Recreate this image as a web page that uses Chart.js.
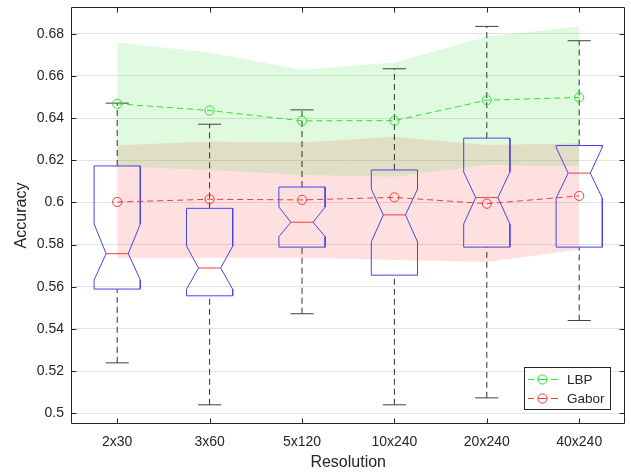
<!DOCTYPE html>
<html><head><meta charset="utf-8">
<script src="https://cdn.jsdelivr.net/npm/chart.js@4.4.1/dist/chart.umd.min.js"></script>
<style>html,body{margin:0;padding:0;background:#fff;}</style>
</head><body>
<canvas id="c" width="631" height="472" style="width:631px;height:472px;display:block"></canvas>
<script>
// ---- data ----
const categories = ['2x30', '3x60', '5x120', '10x240', '20x240', '40x240'];
const yTicks = [0.5, 0.52, 0.54, 0.56, 0.58, 0.6, 0.62, 0.64, 0.66, 0.68];

const lbpMean   = [0.6468, 0.6436, 0.6387, 0.6388, 0.6485, 0.6498];
const gaborMean = [0.6002, 0.6015, 0.6012, 0.6024, 0.5994, 0.6031];

const lbpBandHigh   = [0.6759, 0.6711, 0.6629, 0.6664, 0.6787, 0.6835];
const lbpBandLow    = [0.6170, 0.6154, 0.6130, 0.6122, 0.6178, 0.6170];
const gaborBandHigh = [0.6271, 0.6289, 0.6284, 0.6312, 0.6273, 0.6281];
const gaborBandLow  = [0.5735, 0.5738, 0.5738, 0.5727, 0.5717, 0.5777];

const whiskerHigh = [0.6471, 0.6371, 0.6439, 0.6634, 0.6835, 0.6767];
const q3          = [0.6173, 0.5972, 0.6073, 0.6154, 0.6305, 0.6270];
const notchHigh   = [0.5898, 0.5793, 0.5978, 0.6063, 0.6144, 0.6262];
const median      = [0.5757, 0.5689, 0.5906, 0.5941, 0.6023, 0.6139];
const notchLow    = [0.5632, 0.5588, 0.5838, 0.5813, 0.5898, 0.6020];
const q1          = [0.5589, 0.5557, 0.5788, 0.5655, 0.5788, 0.5788];
const whiskerLow  = [0.5239, 0.5040, 0.5472, 0.5040, 0.5073, 0.5440];

// ---- styling constants ----
const BOX_HALF = 0.25, NOTCH_HALF = 0.12, CAP_HALF = 0.125;
const GREEN = 'rgb(45,225,45)', RED = 'rgb(238,60,60)', BLUE = 'rgb(70,70,228)';
const AXIS = '#262626';
const FONT = "'Liberation Sans', Arial, sans-serif";

const xs = categories.map((_, i) => i + 1);
const pts = (arr) => arr.map((v, i) => ({x: xs[i], y: v}));

function seg(data, color, dash, width) {
  return {type: 'line', data, borderColor: color, borderWidth: width || 1, borderDash: dash || [],
    pointRadius: 0, fill: false, tension: 0, showLine: true, label: '_'};
}

const datasets = [];
datasets.push({type: 'line', label: 'LBP', data: pts(lbpMean), borderColor: GREEN, borderWidth: 1,
  borderDash: [6, 4], pointStyle: 'circle', pointRadius: 4.6, pointBorderColor: GREEN,
  pointBackgroundColor: 'rgba(0,0,0,0)', pointBorderWidth: 1, fill: false, tension: 0});
datasets.push({type: 'line', label: 'Gabor', data: pts(gaborMean), borderColor: RED, borderWidth: 1,
  borderDash: [6, 4], pointStyle: 'circle', pointRadius: 4.6, pointBorderColor: RED,
  pointBackgroundColor: 'rgba(0,0,0,0)', pointBorderWidth: 1, fill: false, tension: 0});

xs.forEach((c, i) => {
  const nh = Math.min(notchHigh[i], q3[i]);
  const nl = Math.max(notchLow[i], q1[i]);
  const L = c - BOX_HALF, R = c + BOX_HALF, nL = c - NOTCH_HALF, nR = c + NOTCH_HALF;
  datasets.push(seg([
    {x: L, y: q1[i]}, {x: L, y: nl}, {x: nL, y: median[i]}, {x: L, y: nh}, {x: L, y: q3[i]},
    {x: R, y: q3[i]}, {x: R, y: nh}, {x: nR, y: median[i]}, {x: R, y: nl}, {x: R, y: q1[i]},
    {x: L, y: q1[i]}], BLUE));
  datasets.push(seg([{x: nL, y: median[i]}, {x: nR, y: median[i]}], RED));
  datasets.push(seg([{x: c, y: q3[i]}, {x: c, y: whiskerHigh[i]}], '#303030', [6, 4]));
  datasets.push(seg([{x: c, y: whiskerLow[i]}, {x: c, y: q1[i]}], '#303030', [6, 4]));
  datasets.push(seg([{x: c - CAP_HALF, y: whiskerHigh[i]}, {x: c + CAP_HALF, y: whiskerHigh[i]}], '#404040'));
  datasets.push(seg([{x: c - CAP_HALF, y: whiskerLow[i]}, {x: c + CAP_HALF, y: whiskerLow[i]}], '#404040'));
});

// bands (drawn first because they are last)
datasets.push({type: 'line', label: '_', data: pts(lbpBandHigh), borderWidth: 0, borderColor: 'rgba(0,0,0,0)',
  pointRadius: 0, fill: '+1', backgroundColor: 'rgba(0,215,0,0.12)', tension: 0});
datasets.push({type: 'line', label: '_', data: pts(lbpBandLow), borderWidth: 0, borderColor: 'rgba(0,0,0,0)',
  pointRadius: 0, fill: false, tension: 0});
datasets.push({type: 'line', label: '_', data: pts(gaborBandHigh), borderWidth: 0, borderColor: 'rgba(0,0,0,0)',
  pointRadius: 0, fill: '+1', backgroundColor: 'rgba(255,0,0,0.12)', tension: 0});
datasets.push({type: 'line', label: '_', data: pts(gaborBandLow), borderWidth: 0, borderColor: 'rgba(0,0,0,0)',
  pointRadius: 0, fill: false, tension: 0});

const frame = {
  id: 'frame',
  afterDatasetsDraw(chart) {
    const ctx = chart.ctx, a = chart.chartArea, sx = chart.scales.x, sy = chart.scales.y;
    ctx.save();
    ctx.strokeStyle = AXIS; ctx.lineWidth = 1; ctx.setLineDash([]);
    const l = Math.round(a.left) + 0.5, r = Math.round(a.right) - 0.5;
    const t = Math.round(a.top) + 0.5, b = Math.round(a.bottom) - 0.5;
    ctx.beginPath();
    ctx.rect(l, t, r - l, b - t);
    const TL = 5;
    yTicks.forEach(v => {
      const y = Math.round(sy.getPixelForValue(v)) + 0.5;
      ctx.moveTo(l, y); ctx.lineTo(l + TL, y);
      ctx.moveTo(r, y); ctx.lineTo(r - TL, y);
    });
    xs.forEach(v => {
      const x = Math.round(sx.getPixelForValue(v)) + 0.5;
      ctx.moveTo(x, b); ctx.lineTo(x, b - TL);
      ctx.moveTo(x, t); ctx.lineTo(x, t + TL);
    });
    ctx.stroke();
    ctx.restore();
  }
};

const legendBox = {
  id: 'legendBox',
  afterDraw(chart) {
    const ctx = chart.ctx, a = chart.chartArea;
    const w = 86, h = 42;
    const x0 = Math.round(a.right - 15 - w), y0 = Math.round(a.bottom - 15 - h);
    ctx.save();
    ctx.fillStyle = '#fff'; ctx.fillRect(x0, y0, w, h);
    ctx.strokeStyle = AXIS; ctx.lineWidth = 1; ctx.strokeRect(x0 + 0.5, y0 + 0.5, w, h);
    const entries = [{label: 'LBP', color: GREEN}, {label: 'Gabor', color: RED}];
    ctx.font = '13.5px ' + FONT; ctx.textBaseline = 'middle'; ctx.textAlign = 'left';
    entries.forEach((e, i) => {
      const yy = y0 + 12.5 + i * 19;
      ctx.strokeStyle = e.color; ctx.lineWidth = 1;
      ctx.beginPath();
      ctx.moveTo(x0 + 4, yy); ctx.lineTo(x0 + 10, yy);
      ctx.moveTo(x0 + 27, yy); ctx.lineTo(x0 + 34, yy);
      ctx.stroke();
      ctx.beginPath(); ctx.arc(x0 + 18.5, yy, 4.6, 0, Math.PI * 2); ctx.stroke();
      ctx.beginPath(); ctx.moveTo(x0 + 14, yy); ctx.lineTo(x0 + 23, yy); ctx.stroke();
      ctx.fillStyle = AXIS; ctx.fillText(e.label, x0 + 43, yy + 0.5);
    });
    ctx.restore();
  }
};

new Chart(document.getElementById('c'), {
  type: 'line',
  data: {datasets},
  options: {
    responsive: false, animation: false, devicePixelRatio: 1,
    layout: {padding: {top: 7, right: 5, left: 0, bottom: 0}},
    plugins: {legend: {display: false}, tooltip: {enabled: false}, filler: {propagate: false}},
    elements: {line: {borderCapStyle: 'butt'}},
    scales: {
      x: {
        type: 'linear', min: 0.5, max: 6.5,
        afterBuildTicks: s => { s.ticks = xs.map(v => ({value: v})); },
        afterFit: s => { s.height = 48; s.paddingLeft = 0; s.paddingRight = 0; },
        grid: {display: false, drawTicks: false},
        border: {display: false},
        ticks: {autoSkip: false, maxRotation: 0, padding: 10, color: AXIS, font: {family: FONT, size: 14},
          callback: v => categories[Math.round(v) - 1]},
        title: {display: true, text: 'Resolution', color: AXIS, font: {family: FONT, size: 16}, padding: {top: 0, bottom: 0}}
      },
      y: {
        type: 'linear', min: 0.4949, max: 0.6927,
        afterBuildTicks: s => { s.ticks = yTicks.map(v => ({value: v})); },
        afterFit: s => { s.width = 71; s.paddingTop = 0; s.paddingBottom = 0; },
        grid: {display: true, color: '#e4e4e4', drawTicks: false},
        border: {display: false},
        ticks: {padding: 7, color: AXIS, font: {family: FONT, size: 14},
          callback: v => String(Number(v.toFixed(2)))},
        title: {display: true, text: 'Accuracy', color: AXIS, font: {family: FONT, size: 16}, padding: {top: 12, bottom: 0}}
      }
    }
  },
  plugins: [frame, legendBox]
});
</script>
</body></html>
